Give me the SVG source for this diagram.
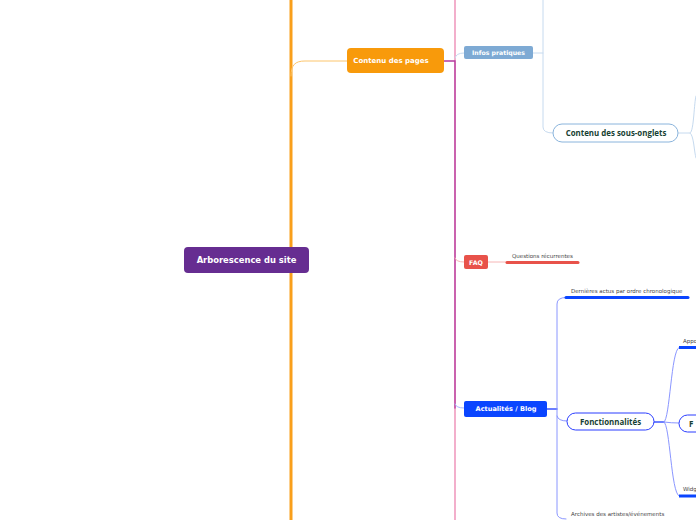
<svg xmlns="http://www.w3.org/2000/svg" width="696" height="520" viewBox="0 0 696 520">
<style>
.box{font-family:"DejaVu Sans",Verdana,sans-serif;font-weight:bold;fill:#fff}
.pill{font-family:"Open Sans","DejaVu Sans",sans-serif;font-weight:bold;fill:#173f33;font-size:7.9px}
.small{font-family:"DejaVu Sans",Verdana,sans-serif;fill:#444;font-size:5.5px}
.c{fill:none;stroke-linecap:round}
</style>
<rect width="696" height="520" fill="#fff"/>
<g id="connectors">
  <line x1="291" y1="0" x2="291" y2="520" stroke="#f99f1b" stroke-width="3"/>
  <path class="c" d="M291,76 C291,65 295,61 305,61 L347,61" stroke="#fcc56c" stroke-width="1"/>
  <line x1="455" y1="0" x2="455" y2="520" stroke="#ec84b0" stroke-width="1.3"/>
  <path class="c" d="M444,61 L455,61 L455,408" stroke="#b43b9f" stroke-width="1.3"/>
  <path class="c" d="M455,58 Q456,53 464,53" stroke="#c6daef" stroke-width="1"/>
  <path class="c" d="M533,53 L543,53" stroke="#c6daef" stroke-width="1"/>
  <path class="c" d="M543,0 L543,127 Q543,133 553,133" stroke="#c6daef" stroke-width="1"/>
  <path class="c" d="M678,133 L690,133 C694,131 694,102 696,96" stroke="#c6daef" stroke-width="1"/>
  <path class="c" d="M690,133 C694,135 694,152 696,158" stroke="#c6daef" stroke-width="1"/>
  <path class="c" d="M455,258 Q456,262 464,262" stroke="#f6b6b6" stroke-width="1"/>
  <path class="c" d="M488,262 L507,262" stroke="#f6b6b6" stroke-width="1"/>
  <line x1="507" y1="262.5" x2="578" y2="262.5" stroke="#e8524a" stroke-width="3" stroke-linecap="round"/>
  <path class="c" d="M455,404 Q456,408 464,408" stroke="#aab8ff" stroke-width="1"/>
  <path class="c" d="M547,409 L557,409" stroke="#3d55ff" stroke-width="1.5"/>
  <path class="c" d="M566,297.5 Q557,297.5 557,304 L557,513 Q557,519 566,519" stroke="#8a96ff" stroke-width="1"/>
  <path class="c" d="M557,416 Q558,421 567,421" stroke="#8a96ff" stroke-width="1"/>
  <line x1="566" y1="297.5" x2="688" y2="297.5" stroke="#0a45ff" stroke-width="3" stroke-linecap="round"/>
  <path class="c" d="M654,422 L664,422" stroke="#3d55ff" stroke-width="1.5"/>
  <path class="c" d="M664,422 C670,420 671,350 679,347.5" stroke="#8a96ff" stroke-width="1"/>
  <path class="c" d="M664,422 Q671,423 679,423" stroke="#8a96ff" stroke-width="1"/>
  <path class="c" d="M664,422 C670,424 671,493 679,496" stroke="#8a96ff" stroke-width="1"/>
  <line x1="679" y1="347.5" x2="700" y2="347.5" stroke="#0a45ff" stroke-width="3"/>
  <line x1="679" y1="496" x2="700" y2="496" stroke="#0a45ff" stroke-width="3"/>
</g>
<g id="root">
  <rect x="184" y="247" width="125" height="26" rx="4" fill="#662d91"/>
  <text class="box" x="246.5" y="263.2" font-size="8.4" text-anchor="middle">Arborescence du site</text>
</g>
<g id="contenu-pages">
  <rect x="347" y="48" width="97" height="25" rx="4" fill="#f89a0b"/>
  <text class="box" x="391" y="63" font-size="7" text-anchor="middle">Contenu des pages</text>
</g>
<g id="infos-pratiques">
  <rect x="464" y="46" width="69" height="13" rx="2" fill="#7eaad4"/>
  <text class="box" x="498.5" y="55.3" font-size="6.2" text-anchor="middle">Infos pratiques</text>
</g>
<g id="sous-onglets">
  <rect x="553" y="124" width="125" height="18" rx="9" fill="#fff" stroke="#8ab4dc" stroke-width="1"/>
  <text class="pill" x="616" y="135.9" text-anchor="middle">Contenu des sous-onglets</text>
</g>
<g id="faq">
  <rect x="464" y="255" width="24" height="14" rx="2" fill="#e8524a"/>
  <text class="box" x="476" y="264.5" font-size="6.3" text-anchor="middle">FAQ</text>
</g>
<g id="questions">
  <text class="small" x="512" y="258">Questions récurrentes</text>
</g>
<g id="actualites">
  <rect x="464" y="401" width="83" height="16" rx="2" fill="#0a45ff"/>
  <text class="box" x="506" y="411.4" font-size="6.6" text-anchor="middle">Actualités / Blog</text>
</g>
<g id="dernieres">
  <text class="small" x="571" y="293">Dernières actus par ordre chronologique</text>
</g>
<g id="fonctionnalites">
  <rect x="567" y="413" width="87" height="17" rx="8.5" fill="#fff" stroke="#2a3dff" stroke-width="1"/>
  <text class="pill" x="610.5" y="424.6" text-anchor="middle">Fonctionnalités</text>
</g>
<g id="appo">
  <text class="small" x="683" y="342.5">Appo</text>
</g>
<g id="f-node">
  <rect x="679" y="415" width="40" height="17" rx="8.5" fill="#fff" stroke="#2a3dff" stroke-width="1"/>
  <text class="pill" x="689" y="426.6">F</text>
</g>
<g id="widg">
  <text class="small" x="683" y="491">Widg</text>
</g>
<g id="archives">
  <text class="small" x="571" y="516">Archives des artistes/événements</text>
</g>
</svg>
